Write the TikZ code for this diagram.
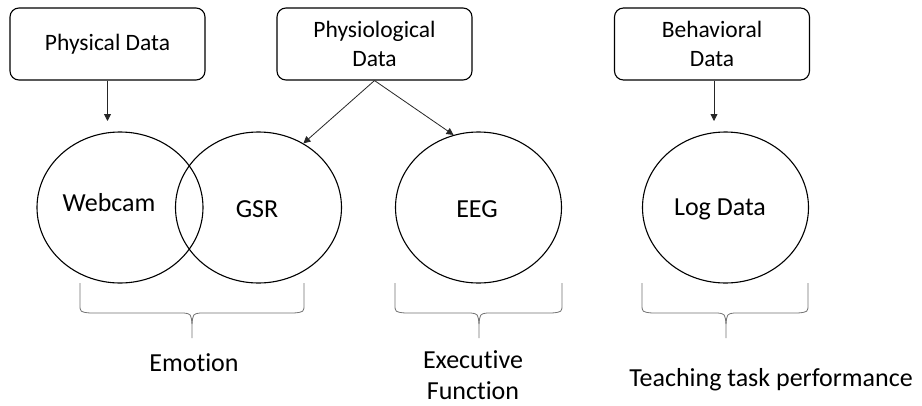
\documentclass[tikz,border=0pt]{standalone}
\usepackage{fontspec}
\setmainfont{Carlito}[Ligatures=NoCommon]
\usetikzlibrary{arrows.meta,shapes.geometric}
\begin{document}
\begin{tikzpicture}[x=1pt,y=-1pt,
  databox/.style={draw=black,line width=1.1pt,rounded corners=9pt,minimum width=195pt,minimum height=72pt,align=center,inner sep=2pt,font=\fontsize{23.5}{29}\selectfont},
  sensor/.style={draw=black,line width=1.1pt,ellipse,minimum width=166pt,minimum height=151pt,inner sep=0pt},
  sensortext/.style={font=\fontsize{26}{31}\selectfont,inner sep=0pt},
  flow/.style={draw=black!85,line width=0.8pt,-{Triangle[length=7pt,width=7pt]}},
  bracesty/.style={draw=black!55,line width=0.8pt},
  outcome/.style={font=\fontsize{26}{31}\selectfont,align=center,inner sep=0pt}]
\useasboundingbox (0,0) rectangle (922,405);
\fill[white] (0,0) rectangle (922,405);
% data sources
\node[databox] (phys) at (107.5,44) {Physical Data};
\node[databox] (physio) at (374.5,44) {Physiological\\Data};
\node[databox] (behav) at (712,44) {Behavioral\\Data};
% sensors
\node[sensor] (webcam) at (120,207.5) {};
\node[sensor] (gsr) at (258.5,207.5) {};
\node[sensor] (eeg) at (478.5,207.5) {};
\node[sensor] (log) at (725.5,207.5) {};
\node[sensortext] (webcamt) at (109,203) {Webcam};
\node[sensortext] (gsrt) at (257,209) {GSR};
\node[sensortext] (eegt) at (477,209) {EEG};
\node[sensortext] (logt) at (720,209) {Log Data};
% arrows
\coordinate (physend) at (107.5,121);
\coordinate (behavend) at (714,121);
\draw[flow] (phys.south -| physend) -- (physend);
\draw[flow] (physio.south) -- (gsr.55);
\draw[flow] (physio.south) -- (eeg.109);
\draw[flow] (behav.south -| behavend) -- (behavend);
% braces
\draw[bracesty] (80,283) -- (80,304) .. controls (80,312) .. (90,313) -- (184,313) .. controls (191,314) .. (192,324) -- (192,338);
\draw[bracesty] (192,324) .. controls (193,314) .. (200,313) -- (294,313) .. controls (304,312) .. (304,304) -- (304,283);
\draw[bracesty] (395,283) -- (395,304) .. controls (395,312) .. (405,313) -- (471,313) .. controls (478,314) .. (479,324) -- (479,338);
\draw[bracesty] (479,324) .. controls (480,314) .. (487,313) -- (552,313) .. controls (562,312) .. (562,304) -- (562,283);
\draw[bracesty] (642,283) -- (642,304) .. controls (642,312) .. (652,313) -- (718,313) .. controls (725,314) .. (726,324) -- (726,338);
\draw[bracesty] (726,324) .. controls (727,314) .. (734,313) -- (798,313) .. controls (808,312) .. (808,304) -- (808,283);
% outcomes
\node[outcome] (emotion) at (194,363) {Emotion};
\node[outcome] (exec) at (473,375) {Executive\\Function};
\node[outcome] (teach) at (771,380) {Teaching task performance};
\end{tikzpicture}
\end{document}
